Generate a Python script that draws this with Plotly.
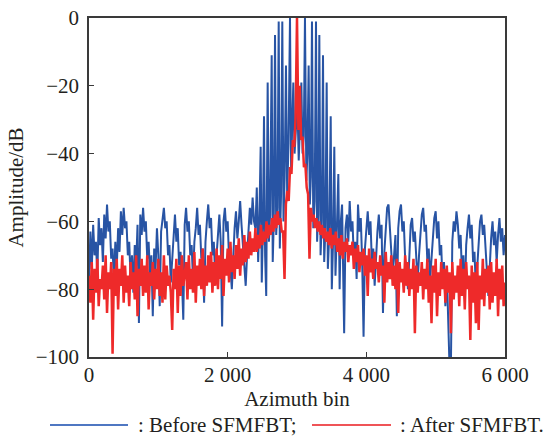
import numpy as np
import plotly.graph_objects as go

# ---------------- data ----------------
STEP = 20  # azimuth-bin spacing of the sampled background values

# Before SFMFBT: left background, bins 0 .. 2380
blue_left = [
    -78, -63, -74, -61, -70, -66, -76, -59, -67, -62,
    -72, -58, -65, -55, -63, -60, -71, -68, -78, -66,
    -74, -62, -69, -57, -64, -56, -62, -60, -70, -66,
    -77, -70, -81, -67, -73, -61, -90, -58, -64, -56,
    -63, -60, -71, -66, -76, -70, -88, -68, -74, -62,
    -70, -85, -63, -59, -56, -62, -60, -70, -67, -78,
    -71, -64, -58, -66, -62, -73, -69, -77, -89, -61,
    -56, -63, -60, -70, -67, -77, -66, -62, -56, -64,
    -61, -71, -68, -84, -66, -60, -55, -62, -59, -70,
    -66, -76, -69, -64, -58, -66, -91, -60, -56, -63,
    -60, -71, -74, -80, -68, -62, -57, -65, -60, -54,
    -61, -67, -72, -79, -70, -62, -56, -61, -53, -60,
]
BLUE_LEFT_START = 0

# Before SFMFBT: central comb of grating lobes (bin, dB)
comb_bins = [
    2400, 2420, 2440, 2456, 2476, 2492, 2508, 2524, 2540, 2556,
    2577, 2595, 2612, 2635, 2650, 2665, 2683, 2700, 2718, 2736,
    2752, 2770, 2788, 2805, 2822, 2841, 2858, 2878, 2899, 2915,
    2930, 2947, 2965, 2985, 3005, 3025, 3045, 3063, 3080, 3098,
    3115, 3135, 3150, 3168, 3185, 3200, 3216, 3235, 3255, 3274,
    3290, 3305, 3322, 3340, 3358, 3375, 3392, 3410, 3428, 3445,
    3465, 3486, 3502, 3520, 3538, 3555, 3575, 3596, 3615, 3632,
    3650,
]
comb_db = [
    -62, -50, -72, -60, -38, -78, -62, -29, -70, -82,
    -19, -66, -58, -11, -72, -60, -5, -64, -56, -1,
    -68, -52, -1, -60, -47, -14, -52, -37, 0, -45,
    -32, -19, -40, -30, -25, -42, -28, -19, -40, -35,
    0, -48, -40, -14, -55, -47, -1, -62, -54, -1,
    -66, -58, -5, -70, -60, -11, -72, -62, -19, -74,
    -64, -29, -80, -66, -38, -76, -62, -46, -80, -60,
    -55,
]

# Before SFMFBT: right background, bins 3660 .. 6000
blue_right = [
    -72, -93, -62, -58, -66, -54, -63, -60, -71, -66,
    -77, -55, -63, -59, -72, -94, -68, -62, -57, -64,
    -60, -72, -68, -79, -70, -63, -58, -65, -61, -87,
    -69, -62, -56, -55, -63, -67, -76, -70, -64, -88,
    -62, -57, -55, -63, -60, -71, -74, -80, -68, -61,
    -59, -66, -63, -73, -78, -70, -64, -58, -56, -63,
    -61, -72, -68, -77, -71, -64, -59, -57, -65, -60,
    -70, -67, -79, -72, -85, -74, -90, -103, -102, -66,
    -60, -63, -57, -61, -68, -64, -76, -70, -83, -67,
    -62, -58, -65, -61, -72, -69, -80, -73, -66, -60,
    -58, -64, -61, -70, -75, -82, -71, -65, -60, -67,
    -63, -72, -64, -59, -66, -62, -70, -64,
]
BLUE_RIGHT_START = 3660

# After SFMFBT: bins 0 .. 6000
red_db = [
    -76, -84, -72, -89, -74, -81, -71, -85, -77, -80,
    -73, -83, -70, -87, -75, -80, -72, -99, -74, -82,
    -71, -86, -74, -79, -70, -84, -73, -81, -76, -85,
    -72, -80, -75, -83, -70, -88, -74, -79, -71, -82,
    -73, -81, -70, -86, -75, -79, -72, -83, -74, -80,
    -71, -82, -75, -84, -70, -83, -73, -79, -76, -81,
    -92, -74, -80, -71, -87, -73, -82, -70, -79, -75,
    -72, -83, -70, -80, -74, -81, -69, -84, -73, -79,
    -71, -80, -68, -82, -73, -79, -70, -78, -69, -81,
    -72, -79, -68, -80, -70, -77, -67, -82, -71, -76,
    -68, -78, -66, -75, -70, -77, -67, -74, -65, -76,
    -68, -73, -64, -72, -66, -71, -63, -70, -65, -69,
    -62, -69, -64, -68, -61, -67, -63, -66, -60, -65,
    -61, -64, -59, -63, -58, -62, -57, -61, -59, -63,
    -63, -77, -55, -51, -54, -44, -46, -36, -38, -29,
    0, -33, -20, -36, -35, -44, -43, -50, -52, -71,
    -56, -60, -58, -62, -59, -63, -60, -64, -61, -65,
    -62, -66, -63, -67, -62, -68, -64, -67, -63, -69,
    -65, -70, -64, -71, -66, -69, -65, -72, -67, -70,
    -66, -74, -68, -72, -67, -75, -69, -73, -68, -76,
    -70, -82, -68, -75, -71, -77, -69, -74, -72, -78,
    -70, -76, -73, -84, -69, -78, -72, -77, -70, -79,
    -73, -80, -71, -87, -72, -78, -74, -81, -70, -79,
    -72, -82, -74, -80, -71, -93, -73, -81, -75, -79,
    -72, -83, -74, -80, -71, -84, -76, -90, -73, -81,
    -71, -88, -75, -82, -72, -80, -74, -84, -73, -81,
    -75, -93, -72, -83, -76, -81, -73, -85, -71, -82,
    -74, -86, -72, -80, -76, -95, -73, -84, -75, -90,
    -72, -92, -76, -83, -71, -85, -74, -81, -73, -86,
    -72, -84, -75, -82, -71, -88, -74, -83, -73, -85,
    -78,
]
RED_START = 0

x_tickvals = [0, 2000, 4000, 6000]
x_ticktext = ["0", "2 000", "4 000", "6 000"]
y_tickvals = [0, -20, -40, -60, -80, -100]
y_ticktext = ["0", "\u221220", "\u221240", "\u221260", "\u221280", "\u2212100"]

series_names = [": Before SFMFBT;", ": After SFMFBT."]
series_colors = ["#2854a4", "#ee2a2a"]
legend_colors = ["#4f77c2", "#ef5457"]

FONT = "Liberation Serif"
FS = 21
TXT = "#231f20"

# ---------------- build series ----------------
assert len(comb_bins) == len(comb_db)
blue_x = np.concatenate([
    BLUE_LEFT_START + STEP * np.arange(len(blue_left)),
    np.array(comb_bins),
    BLUE_RIGHT_START + STEP * np.arange(len(blue_right)),
])
blue_y = np.concatenate([np.array(blue_left), np.array(comb_db), np.array(blue_right)])
red_x = RED_START + STEP * np.arange(len(red_db))
red_y = np.array(red_db)

fig = go.Figure()
fig.add_trace(go.Scatter(x=blue_x, y=blue_y, mode="lines", name=series_names[0],
                         line=dict(color=series_colors[0], width=2.0), showlegend=False))
fig.add_trace(go.Scatter(x=red_x, y=red_y, mode="lines", name=series_names[1],
                         line=dict(color=series_colors[1], width=2.5), showlegend=False))

axis_common = dict(
    showline=True, linecolor="#3a3a3a", linewidth=1.5, mirror=True,
    ticks="inside", ticklen=5, tickwidth=1.2, tickcolor="#3a3a3a",
    showgrid=False, zeroline=False,
    tickfont=dict(family=FONT, size=FS, color=TXT),
)

fig.update_xaxes(range=[0, 6000], tickvals=x_tickvals, ticktext=x_ticktext,
                 title=dict(text="Azimuth bin", standoff=0,
                            font=dict(family=FONT, size=FS, color=TXT)),
                 ticklabelstandoff=-2, **axis_common)
fig.update_yaxes(range=[-100, 0], tickvals=y_tickvals, ticktext=y_ticktext,
                 title=dict(text="Amplitude/dB", standoff=6,
                            font=dict(family=FONT, size=FS, color=TXT)),
                 ticklabelstandoff=4, **axis_common)

# legend drawn below the plot: long line sample followed by its label
PL, PW, PB, PH = 89, 416, 357, 339          # plot-area geometry in pixels
def px_x(p):
    return (p - PL) / PW
def px_y(p):
    return (PB - p) / PH

legend_rows = [(50, 128, 136), (312, 391, 398)]  # line start, line end, text start (px)
LEG_Y = 425
for (x0, x1, xt), name, col in zip(legend_rows, series_names, legend_colors):
    fig.add_shape(type="line", xref="paper", yref="paper",
                  x0=px_x(x0), x1=px_x(x1), y0=px_y(LEG_Y), y1=px_y(LEG_Y),
                  line=dict(color=col, width=2))
    fig.add_annotation(xref="paper", yref="paper", x=px_x(xt), y=px_y(LEG_Y),
                       xanchor="left", yanchor="middle", showarrow=False,
                       text=name, font=dict(family=FONT, size=FS, color=TXT))

fig.update_layout(
    width=544, height=436,
    margin=dict(l=89, r=39, t=18, b=79, autoexpand=False),
    paper_bgcolor="white", plot_bgcolor="white",
    font=dict(family=FONT, size=FS, color=TXT),
    showlegend=False,
)

fig.write_html("out.html")
